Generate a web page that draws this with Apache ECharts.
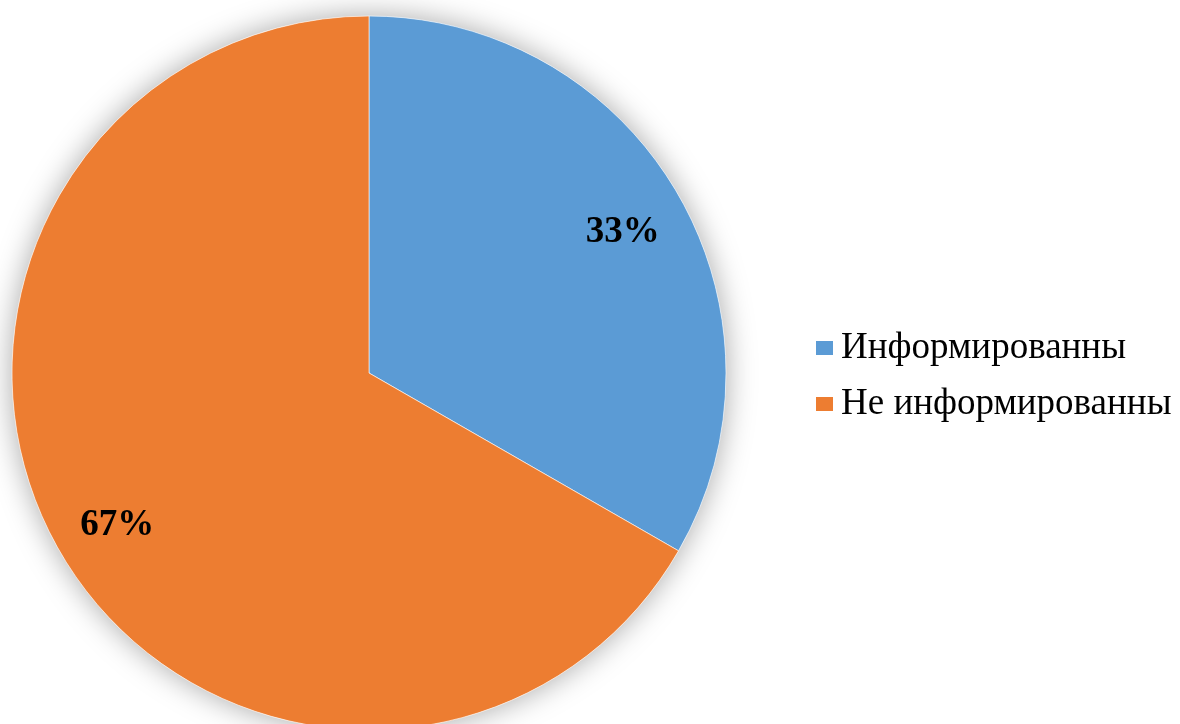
<!DOCTYPE html>
<html>
<head>
<meta charset="utf-8">
<script src="https://cdn.jsdelivr.net/npm/echarts@6/dist/echarts.min.js"></script>
<style>
  html, body { margin: 0; padding: 0; background: #fff; }
  #chart { width: 1180px; height: 724px; }
</style>
</head>
<body>
<div id="chart"></div>
<script>
// доли опрошенных
const names  = ['Информированны', 'Не информированны'];
const values = [33.3, 66.7];
const colors = ['#5B9BD5', '#ED7D31'];

const chart = echarts.init(document.getElementById('chart'), null, { renderer: 'canvas' });

const FONT = '"Liberation Serif", "Times New Roman", serif';
const C = [369, 373], R = 357;

const slices = names.map((n, i) => ({ name: n, value: values[i], itemStyle: { color: colors[i] } }));

chart.setOption({
  backgroundColor: '#fff', animation: false,
  legend: {
    orient: 'vertical', left: 814, top: 329, padding: 0,
    itemWidth: 19, itemHeight: 16, itemGap: 18, icon: 'rect',
    textStyle: { fontFamily: FONT, fontSize: 37, lineHeight: 38, color: '#000', padding: [0, 0, 0, 2] },
    data: names.map((n, i) => ({ name: n, itemStyle: { color: colors[i] } })),
  },
  series: [
    // подложка с тенью
    {
      type: 'pie', center: C, radius: R, silent: true, z: 1,
      label: { show: false }, labelLine: { show: false },
      itemStyle: { color: '#fff', shadowBlur: 30, shadowColor: 'rgba(0,0,0,0.35)' },
      data: [{ name: '_bg', value: 1 }],
    },
    {
      type: 'pie', center: C, radius: R, z: 2, startAngle: 90, clockwise: true,
      label: { show: false }, labelLine: { show: false },
      itemStyle: { borderColor: '#fff', borderWidth: 0.6 },
      data: slices,
    },
    // подписи долей
    {
      type: 'pie', center: C, radius: [Math.round(R * 0.62), R], z: 3, silent: true,
      startAngle: 90, clockwise: true,
      itemStyle: { color: 'transparent' },
      label: {
        show: true, position: 'inside', offset: [1, 6],
        formatter: p => Math.round(p.value) + '%',
        fontFamily: FONT, fontSize: 37, fontWeight: 'bold', color: '#000',
      },
      labelLine: { show: false },
      data: names.map((n, i) => ({ name: n, value: values[i] })),
    },
  ],
});
</script>
</body>
</html>
